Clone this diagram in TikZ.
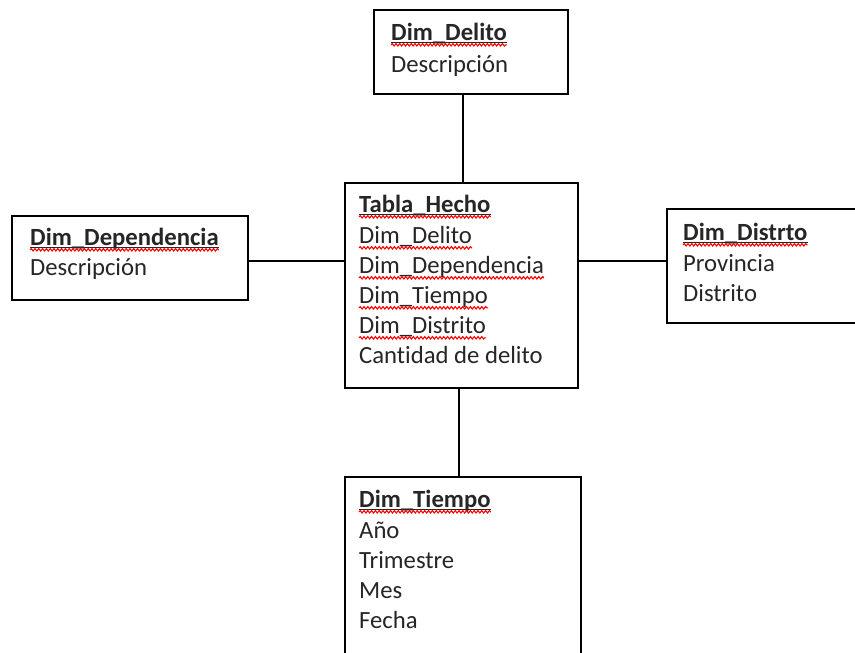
\documentclass[tikz,border=0pt]{standalone}
\usepackage{fontspec}
\setmainfont[Ligatures=NoCommon]{Carlito}
\usetikzlibrary{decorations.pathmorphing}
\begin{document}
\begin{tikzpicture}[x=1pt,y=-1pt,
  box/.style={draw, line width=1.6pt, inner sep=0pt},
  conn/.style={line width=1.3pt},
  txt/.style={anchor=base west, inner sep=0pt, text=black!85, font=\fontsize{24.7}{29}\selectfont},
  ttl/.style={txt, font=\fontsize{24.7}{29}\selectfont\bfseries},
  uline/.style={line width=1.1pt, black!85},
  wave/.style={red, line width=1.1pt, decorate,
    decoration={snake, amplitude=1.2pt, segment length=3.8pt}}]
\useasboundingbox (0,0) rectangle (855,653);
\fill[white] (0,0) rectangle (855,653);

% tables
\node[box, minimum width=194pt, minimum height=84pt] (delito) at (471,52) {};
\node[box, minimum width=233pt, minimum height=205pt] (hecho) at (461.5,285.5) {};
\node[box, minimum width=236pt, minimum height=84pt] (dependencia) at (130,258) {};
\node[box, minimum width=200pt, minimum height=114pt] (distrito) at (767,266) {};
\node[box, minimum width=236pt, minimum height=200pt] (tiempo) at (463,577) {};

% Dim_Delito
\node[ttl] (t1) at (391,40) {Dim\_Delito};
\node[txt] (d1) at (391,72) {Descripción};

% Tabla_Hecho
\node[ttl] (t2) at (359,212) {Tabla\_Hecho};
\node[txt] (h1) at (359,243) {Dim\_Delito};
\node[txt] (h2) at (359,273) {Dim\_Dependencia};
\node[txt] (h3) at (359,303) {Dim\_Tiempo};
\node[txt] (h4) at (359,333) {Dim\_Distrito};
\node[txt] (h5) at (359,363) {Cantidad de delito};

% Dim_Dependencia
\node[ttl] (t3) at (30,245) {Dim\_Dependencia};
\node[txt] (p1) at (30,275) {Descripción};

% Dim_Distrto
\node[ttl] (t4) at (683,240) {Dim\_Distrto};
\node[txt] (s1) at (683,271) {Provincia};
\node[txt] (s2) at (683,301) {Distrito};

% Dim_Tiempo
\node[ttl] (t5) at (359,507) {Dim\_Tiempo};
\node[txt] (m1) at (359,538) {Año};
\node[txt] (m2) at (359,568) {Trimestre};
\node[txt] (m3) at (359,598) {Mes};
\node[txt] (m4) at (359,628) {Fecha};

% underlined titles
\foreach \n in {t1,t2,t3,t4,t5}{
  \draw[uline] ([yshift=-2.2pt]\n.base west) -- ([yshift=-2.2pt]\n.base east);
  \draw[wave] ([yshift=-4.8pt]\n.base west) -- ([yshift=-4.8pt]\n.base east);
}
% spelling marks under the key fields
\foreach \n in {h1,h2,h3,h4}{
  \draw[wave] ([yshift=-4.8pt]\n.base west) -- ([yshift=-4.8pt]\n.base east);
}

% connectors
\coordinate (cx1) at (463,0);
\coordinate (cx2) at (459,0);
\coordinate (ry) at (0,261);
\draw[conn] (delito.south -| cx1) -- (hecho.north -| cx1);
\draw[conn] (hecho.south -| cx2) -- (tiempo.north -| cx2);
\draw[conn] (dependencia.east |- ry) -- (hecho.west |- ry);
\draw[conn] (hecho.east |- ry) -- (distrito.west |- ry);
\end{tikzpicture}
\end{document}
